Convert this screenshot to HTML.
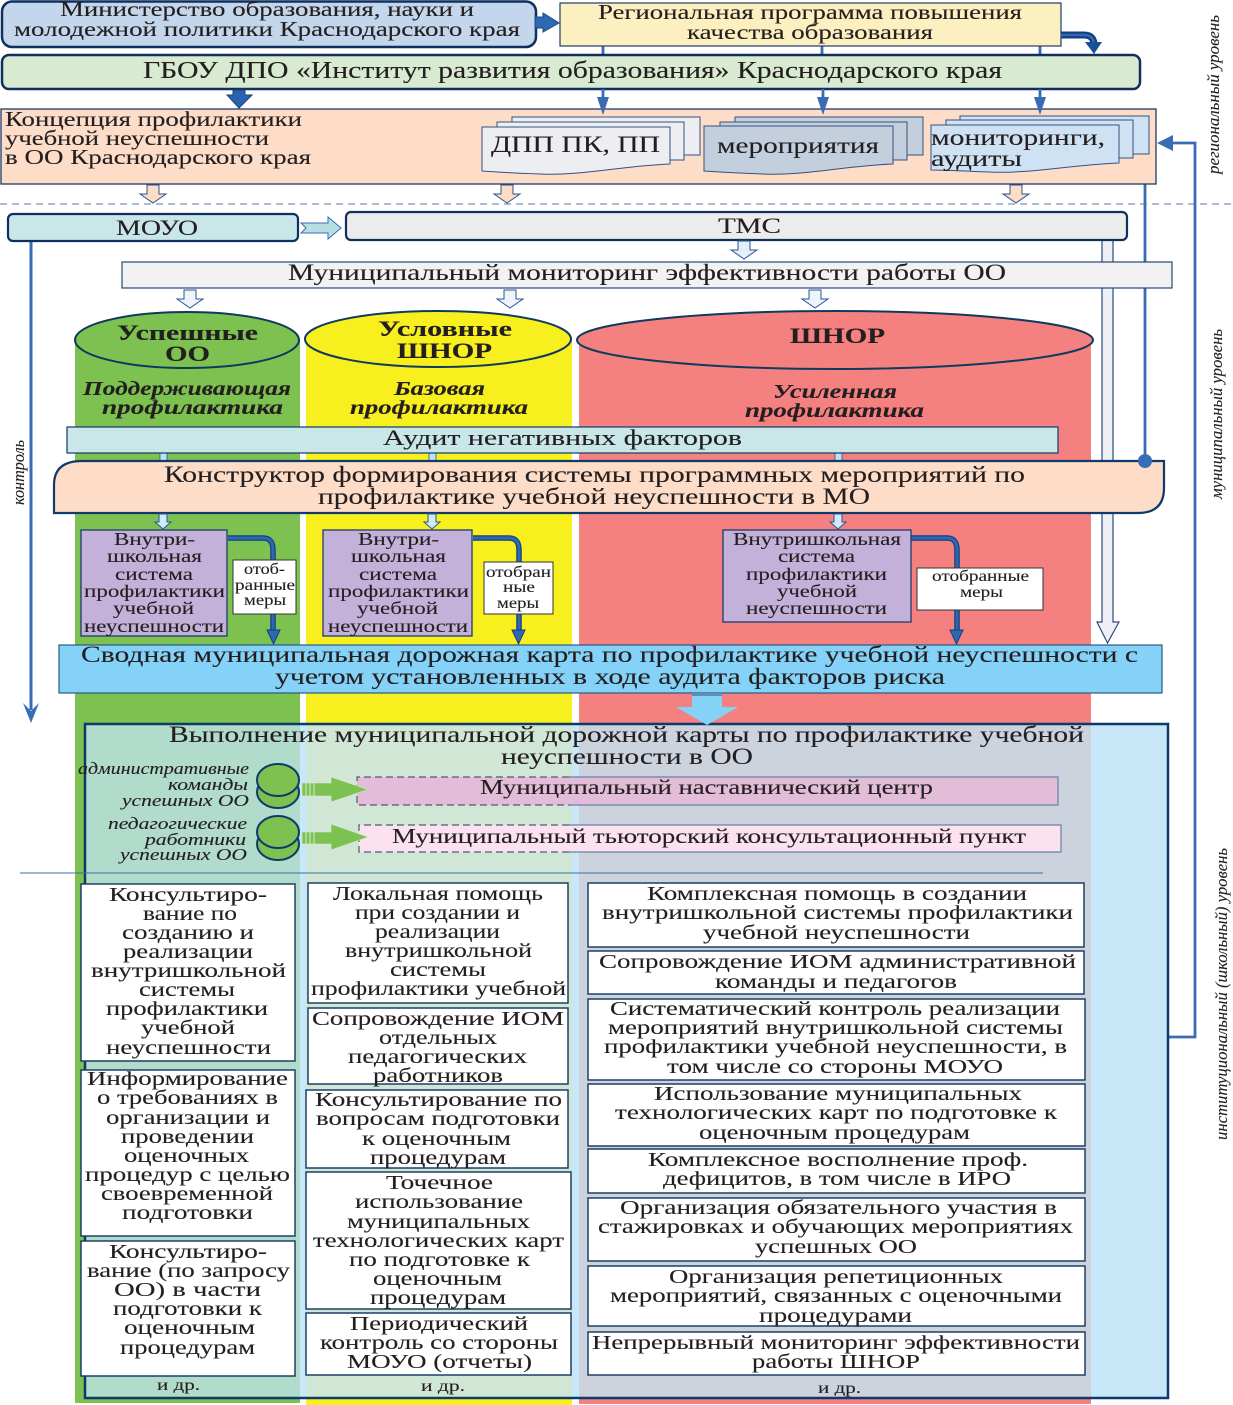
<!DOCTYPE html>
<html lang="ru"><head><meta charset="utf-8"><title>Схема</title>
<style>
html,body{margin:0;padding:0;background:#fff}
svg{display:block}
text{font-family:"Liberation Serif","DejaVu Serif",serif;fill:#231f20;font-size:21px;stroke:#231f20;stroke-width:.12}
.s19{font-size:20px}.s18{font-size:18px}.s16{font-size:15.5px}.s22{font-size:22px}.s23{font-size:23px}.s24{font-size:24px}
.bi{font-weight:bold;font-style:italic;font-size:19.5px}
.b{font-weight:bold;font-size:22px}
.i{font-style:italic;font-size:16.5px}
.bx{fill:#fff;stroke:#1c3f68;stroke-width:1.5}
</style></head><body>
<svg xmlns="http://www.w3.org/2000/svg" width="1233" height="1405" viewBox="0 0 1233 1405">
<defs>
<polygon id="ha" points="-6,0 6,0 6,9 13,9 0,18 -13,9 -6,9" stroke="#2a5590" stroke-width="1"/>
<polygon id="sa" points="-4,0 4,0 4,8 8,8 0,15 -8,8 -4,8" stroke="#2a5590" stroke-width="1"/>
</defs>
<rect width="1233" height="1405" fill="#fff"/>

<!-- columns -->
<rect x="75" y="340" width="225" height="1063" fill="#7dc150"/>
<rect x="306" y="340" width="266" height="1065" fill="#f8ef1e"/>
<rect x="579" y="340" width="512" height="1064" fill="#f58080"/>
<ellipse cx="187" cy="340" rx="112" ry="28" fill="#7dc150" stroke="#0d3a5e" stroke-width="2"/>
<ellipse cx="438" cy="339" rx="133" ry="28" fill="#f8ef1e" stroke="#0d3a5e" stroke-width="2"/>
<ellipse cx="835" cy="340" rx="258" ry="29" fill="#f58080" stroke="#0d3a5e" stroke-width="2"/>
<text class="b" x="117" y="340" textLength="141" lengthAdjust="spacingAndGlyphs">Успешные</text>
<text class="b" x="165" y="361" textLength="45" lengthAdjust="spacingAndGlyphs">ОО</text>
<text class="b" x="378" y="336" textLength="134" lengthAdjust="spacingAndGlyphs">Условные</text>
<text class="b" x="397" y="358" textLength="95" lengthAdjust="spacingAndGlyphs">ШНОР</text>
<text class="b" x="790" y="343" textLength="95" lengthAdjust="spacingAndGlyphs">ШНОР</text>
<text class="bi" x="83" y="395" textLength="208" lengthAdjust="spacingAndGlyphs">Поддерживающая</text>
<text class="bi" x="102" y="414" textLength="181" lengthAdjust="spacingAndGlyphs">профилактика</text>
<text class="bi" x="394" y="395" textLength="91" lengthAdjust="spacingAndGlyphs">Базовая</text>
<text class="bi" x="350" y="414" textLength="178" lengthAdjust="spacingAndGlyphs">профилактика</text>
<text class="bi" x="773" y="398" textLength="124" lengthAdjust="spacingAndGlyphs">Усиленная</text>
<text class="bi" x="745" y="417" textLength="179" lengthAdjust="spacingAndGlyphs">профилактика</text>

<!-- long lines -->
<polyline points="1172,143 1195,143 1195,1037 1085,1037" fill="none" stroke="#3a6cb5" stroke-width="2.800"/>
<polygon points="1157,143 1173,135 1173,151" fill="#3a6cb5"/>
<line x1="1145" y1="184" x2="1145" y2="461" stroke="#3a6cb5" stroke-width="2.800"/>
<line x1="31" y1="241" x2="31" y2="710" stroke="#3a6cb5" stroke-width="3"/>
<polygon points="23,703 31,711 39,703 31,723" fill="#3a6cb5"/>
<polygon points="1102,240 1113,240 1113,622 1119,622 1107.500,643 1097,622 1102,622" fill="#eef0f6" stroke="#2a4a80" stroke-width="1.200"/>

<!-- top -->
<rect x="2" y="1.500" width="534" height="45.500" rx="10" fill="#c3d6ec" stroke="#0f2f5f" stroke-width="2.500"/>
<text x="60" y="16" textLength="414" lengthAdjust="spacingAndGlyphs">Министерство образования, науки и</text>
<text x="14" y="36" textLength="506" lengthAdjust="spacingAndGlyphs">молодежной политики Краснодарского края</text>
<polygon points="535,17 543,17 543,13 559,23 543,32 543,28 535,28" fill="#2f68b2" stroke="#1a4a8a"/>
<line x1="603" y1="46" x2="603" y2="56" stroke="#3a6cb5" stroke-width="2.800"/>
<line x1="822" y1="46" x2="822" y2="56" stroke="#3a6cb5" stroke-width="2.800"/>
<line x1="1040" y1="46" x2="1040" y2="56" stroke="#3a6cb5" stroke-width="2.800"/>
<rect x="560" y="3" width="501" height="43" fill="#fdf0c0" stroke="#1b3b6b" stroke-width="1.200"/>
<text x="598" y="19" textLength="424" lengthAdjust="spacingAndGlyphs">Региональная программа повышения</text>
<text x="687" y="39" textLength="246" lengthAdjust="spacingAndGlyphs">качества образования</text>
<path d="M1061,35 H1084 Q1094,35 1094,45" fill="none" stroke="#123f80" stroke-width="7"/>
<path d="M1061,35 H1084 Q1094,35 1094,45" fill="none" stroke="#2f68b2" stroke-width="2.500"/>
<polygon points="1085,42 1102,42 1094,54" fill="#1a4f98"/>

<rect x="2" y="55" width="1138" height="34" rx="7" fill="#d8ead0" stroke="#0f2f5f" stroke-width="2.500"/>
<text class="s24" x="143" y="78" textLength="859" lengthAdjust="spacingAndGlyphs">ГБОУ ДПО «Институт развития образования» Краснодарского края</text>
<polygon points="233,90 245,90 245,95 252,95 239,108 227,95 233,95" fill="#2a62b0" stroke="#17427f"/>

<rect x="1" y="109" width="1155" height="75" fill="#fddcc8" stroke="#1b3b6b" stroke-width="1.300"/>
<text x="5" y="126" textLength="297" lengthAdjust="spacingAndGlyphs">Концепция профилактики</text>
<text x="5" y="145" textLength="264" lengthAdjust="spacingAndGlyphs">учебной неуспешности</text>
<text x="5" y="164" textLength="306" lengthAdjust="spacingAndGlyphs">в ОО Краснодарского края</text>
<g stroke="#3a6cb5" stroke-width="2.800"><line x1="603" y1="89" x2="603" y2="100"/><line x1="823" y1="89" x2="823" y2="100"/><line x1="1040" y1="89" x2="1040" y2="100"/></g>
<g fill="#3a6cb5"><polygon points="597,97 609,97 603,115"/><polygon points="817,97 829,97 823,115"/><polygon points="1034,97 1046,97 1040,115"/></g>

<!-- doc stacks -->
<g fill="#eceef2" stroke="#34527e" stroke-width="1">
<rect x="512" y="117" width="188" height="38"/><rect x="497" y="122" width="187" height="38"/>
<path d="M482,127 H670 V164 C620,166 580,176 540,174 C515,173 495,172 482,171 Z"/></g>
<text class="s23" x="491" y="152" textLength="169" lengthAdjust="spacingAndGlyphs">ДПП ПК, ПП</text>
<g fill="#c3cfdd" stroke="#34527e" stroke-width="1">
<rect x="735" y="117" width="188" height="38"/><rect x="720" y="122" width="187" height="38"/>
<path d="M704,126 H893 V164 C843,166 803,176 763,174 C738,173 718,172 704,171 Z"/></g>
<text class="s23" x="717" y="153" textLength="162" lengthAdjust="spacingAndGlyphs">мероприятия</text>
<g fill="#cfe2f3" stroke="#34527e" stroke-width="1">
<rect x="960" y="116" width="189" height="38"/><rect x="946" y="120" width="187" height="38"/>
<path d="M931,125 H1119 V163 C1069,165 1029,174 989,172 C964,171 944,170 931,170 Z"/></g>
<text class="s23" x="931" y="145" textLength="174" lengthAdjust="spacingAndGlyphs">мониторинги,</text>
<text class="s23" x="931" y="166" textLength="91" lengthAdjust="spacingAndGlyphs">аудиты</text>

<g fill="#fddcc8">
<use href="#ha" transform="translate(153,185)"/><use href="#ha" transform="translate(507,185)"/><use href="#ha" transform="translate(1016,185)"/></g>
<line x1="0" y1="204" x2="1233" y2="204" stroke="#5a7aae" stroke-width="1" stroke-dasharray="7 5"/>

<!-- municipal -->
<rect x="8" y="214" width="290" height="27" rx="5" fill="#c9e7e8" stroke="#0f2f5f" stroke-width="2.200"/>
<text class="s22" x="116" y="235" textLength="82" lengthAdjust="spacingAndGlyphs">МОУО</text>
<polygon points="301,223 328,223 328,217 341,228 328,239 328,233 301,233 306,228" fill="#b6dfe4" stroke="#3a6cb5"/>
<rect x="346" y="212" width="781" height="28" rx="5" fill="#ececec" stroke="#0f2f5f" stroke-width="2.200"/>
<text class="s22" x="718" y="233" textLength="63" lengthAdjust="spacingAndGlyphs">ТМС</text>
<use href="#ha" transform="translate(744,241)" fill="#e4eff8"/>
<rect x="122" y="262" width="1050" height="26" fill="#f2f2f2" stroke="#234a78" stroke-width="1.200"/>
<text class="s23" x="288" y="280" textLength="718" lengthAdjust="spacingAndGlyphs">Муниципальный мониторинг эффективности работы ОО</text>
<g fill="#eef4fa"><use href="#ha" transform="translate(190,290)"/><use href="#ha" transform="translate(510,290)"/><use href="#ha" transform="translate(815,290)"/></g>

<!-- audit -->
<g fill="#bfe3f5" stroke="#2a5590" stroke-width=".8"><rect x="160" y="453" width="7" height="9"/><rect x="429" y="453" width="7" height="9"/><rect x="835" y="453" width="7" height="9"/></g>
<rect x="67" y="427" width="991" height="26" fill="#c9e7e8" stroke="#103a6a" stroke-width="1.200"/>
<text class="s22" x="383" y="445" textLength="359" lengthAdjust="spacingAndGlyphs">Аудит негативных факторов</text>
<path d="M54,513 V485 Q54,461 82,461 H1164 V488 Q1164,513 1138,513 Z" fill="#fddcc8" stroke="#103a6a" stroke-width="2.200"/>
<circle cx="1145" cy="461" r="7" fill="#3a6cb5"/>
<text class="s23" x="164" y="482" textLength="861" lengthAdjust="spacingAndGlyphs">Конструктор формирования системы программных мероприятий по</text>
<text class="s23" x="318" y="504" textLength="552" lengthAdjust="spacingAndGlyphs">профилактике учебной неуспешности в МО</text>
<g fill="#cfeaf8"><use href="#sa" transform="translate(163,514)"/><use href="#sa" transform="translate(432,514)"/><use href="#sa" transform="translate(838,514)"/></g>

<!-- connectors -->
<g fill="none" stroke-linejoin="round">
<path d="M228,538 H263 Q273,538 273,550 V632" stroke="#123f80" stroke-width="5.500"/>
<path d="M228,538 H263 Q273,538 273,550 V632" stroke="#2f68b2" stroke-width="3"/>
<path d="M473,538 H509 Q519,538 519,550 V632" stroke="#123f80" stroke-width="5.500"/>
<path d="M473,538 H509 Q519,538 519,550 V632" stroke="#2f68b2" stroke-width="3"/>
<path d="M911,538 H947 Q957,538 957,550 V632" stroke="#123f80" stroke-width="5.500"/>
<path d="M911,538 H947 Q957,538 957,550 V632" stroke="#2f68b2" stroke-width="3"/>
</g>
<g fill="#2f68b2" stroke="#123f80"><polygon points="267,630 280,630 273.500,644"/><polygon points="512,630 525,630 518.500,644"/><polygon points="950,630 963,630 956.500,644"/></g>

<!-- purple -->
<g fill="#c3b1d9" stroke="#1b3b6b" stroke-width="1.300">
<rect x="81" y="530" width="146" height="106"/><rect x="323" y="530" width="149" height="106"/><rect x="723" y="530" width="188" height="92"/></g>
<g>
<text class="s18" x="114" y="545" textLength="81" lengthAdjust="spacingAndGlyphs">Внутри-</text>
<text class="s18" x="107" y="562" textLength="95" lengthAdjust="spacingAndGlyphs">школьная</text>
<text class="s18" x="115" y="580" textLength="78" lengthAdjust="spacingAndGlyphs">система</text>
<text class="s18" x="84" y="597" textLength="141" lengthAdjust="spacingAndGlyphs">профилактики</text>
<text class="s18" x="113" y="614" textLength="81" lengthAdjust="spacingAndGlyphs">учебной</text>
<text class="s18" x="84" y="632" textLength="140" lengthAdjust="spacingAndGlyphs">неуспешности</text>
<text class="s18" x="358" y="545" textLength="81" lengthAdjust="spacingAndGlyphs">Внутри-</text>
<text class="s18" x="351" y="562" textLength="95" lengthAdjust="spacingAndGlyphs">школьная</text>
<text class="s18" x="359" y="580" textLength="78" lengthAdjust="spacingAndGlyphs">система</text>
<text class="s18" x="328" y="597" textLength="141" lengthAdjust="spacingAndGlyphs">профилактики</text>
<text class="s18" x="357" y="614" textLength="81" lengthAdjust="spacingAndGlyphs">учебной</text>
<text class="s18" x="328" y="632" textLength="140" lengthAdjust="spacingAndGlyphs">неуспешности</text>
<text class="s18" x="733" y="545" textLength="168" lengthAdjust="spacingAndGlyphs">Внутришкольная</text>
<text class="s18" x="778" y="562" textLength="77" lengthAdjust="spacingAndGlyphs">система</text>
<text class="s18" x="746" y="580" textLength="141" lengthAdjust="spacingAndGlyphs">профилактики</text>
<text class="s18" x="777" y="597" textLength="80" lengthAdjust="spacingAndGlyphs">учебной</text>
<text class="s18" x="746" y="614" textLength="141" lengthAdjust="spacingAndGlyphs">неуспешности</text>
</g>
<g fill="#fff" stroke="#333" stroke-width="1"><rect x="233" y="560" width="63" height="54"/><rect x="484" y="562" width="69" height="52"/><rect x="917" y="568" width="126" height="42"/></g>
<text class="s16" x="244" y="574" textLength="41" lengthAdjust="spacingAndGlyphs">отоб-</text>
<text class="s16" x="235" y="590" textLength="60" lengthAdjust="spacingAndGlyphs">ранные</text>
<text class="s16" x="244" y="605" textLength="42" lengthAdjust="spacingAndGlyphs">меры</text>
<text class="s16" x="486" y="577" textLength="65" lengthAdjust="spacingAndGlyphs">отобран</text>
<text class="s16" x="503" y="592" textLength="32" lengthAdjust="spacingAndGlyphs">ные</text>
<text class="s16" x="497" y="608" textLength="42" lengthAdjust="spacingAndGlyphs">меры</text>
<text class="s16" x="932" y="581" textLength="97" lengthAdjust="spacingAndGlyphs">отобранные</text>
<text class="s16" x="960" y="597" textLength="43" lengthAdjust="spacingAndGlyphs">меры</text>

<!-- summary -->
<rect x="59" y="645" width="1103" height="48" fill="#85d2f8" stroke="#2a5a80" stroke-width="1.200"/>
<text class="s23" x="81" y="662" textLength="1057" lengthAdjust="spacingAndGlyphs">Сводная муниципальная дорожная карта по профилактике учебной неуспешности с</text>
<text class="s23" x="275" y="684" textLength="670" lengthAdjust="spacingAndGlyphs">учетом установленных в ходе аудита факторов риска</text>

<!-- panel -->
<rect x="85" y="724" width="1083" height="674" fill="#c8e8fa"/>
<rect x="85" y="724" width="215" height="674" fill="#b1dccb"/>
<rect x="306" y="724" width="266" height="674" fill="#d1e7d6"/>
<rect x="579" y="724" width="512" height="674" fill="#cdd3dd"/>
<rect x="85" y="724" width="1083" height="674" fill="none" stroke="#0d3a6b" stroke-width="2.500"/>
<polygon points="692,693 722,693 722,707 738,707 707,725 676,707 692,707" fill="#85d2f8"/>
<rect x="692" y="693" width="30" height="3" fill="#5f8fb5"/>
<text class="s23" x="169" y="742" textLength="915" lengthAdjust="spacingAndGlyphs">Выполнение муниципальной дорожной карты по профилактике учебной</text>
<text class="s23" x="501" y="764" textLength="252" lengthAdjust="spacingAndGlyphs">неуспешности в ОО</text>
<text class="i" x="78" y="774" textLength="171" lengthAdjust="spacingAndGlyphs">административные</text>
<text class="i" x="168" y="790" textLength="80" lengthAdjust="spacingAndGlyphs">команды</text>
<text class="i" x="122" y="806" textLength="127" lengthAdjust="spacingAndGlyphs">успешных ОО</text>
<text class="i" x="108" y="829" textLength="139" lengthAdjust="spacingAndGlyphs">педагогические</text>
<text class="i" x="145" y="845" textLength="101" lengthAdjust="spacingAndGlyphs">работники</text>
<text class="i" x="120" y="860" textLength="127" lengthAdjust="spacingAndGlyphs">успешных ОО</text>
<g fill="#7dc150" stroke="#0d3a6b" stroke-width="2">
<ellipse cx="278" cy="792" rx="21" ry="16"/><ellipse cx="278" cy="780" rx="21" ry="16"/>
<ellipse cx="278" cy="844" rx="21" ry="16"/><ellipse cx="278" cy="832" rx="21" ry="16"/></g>

<rect x="357" y="777" width="701" height="28" fill="#e3bcd8"/>
<path d="M569,777 H1058 V805 H569" fill="none" stroke="#6a7fae" stroke-width="1.200"/>
<path d="M569,777 H357 V805 H569" fill="none" stroke="#55557a" stroke-width="1.200" stroke-dasharray="7 4"/>
<text x="480" y="794" textLength="453" lengthAdjust="spacingAndGlyphs">Муниципальный наставнический центр</text>
<rect x="359" y="825" width="702" height="27" fill="#fbe2ee"/>
<path d="M569,825 H1061 V852 H569" fill="none" stroke="#6a7fae" stroke-width="1.200"/>
<path d="M569,825 H359 V852 H569" fill="none" stroke="#55557a" stroke-width="1.200" stroke-dasharray="7 4"/>
<text x="392" y="843" textLength="634" lengthAdjust="spacingAndGlyphs">Муниципальный тьюторский консультационный пункт</text>

<g fill="#7dc150" stroke="#d8ecd8" stroke-width=".6">
<polygon points="302,783 331,783 331,777 368,789.500 331,802 331,796 302,796"/>
<polygon points="302,832 331,832 331,824 368,837 331,850 331,844 302,844"/></g>
<g stroke="#d8ecd8" stroke-width="1"><line x1="306" y1="783" x2="306" y2="796"/><line x1="310" y1="783" x2="310" y2="796"/><line x1="314" y1="783" x2="314" y2="796"/><line x1="306" y1="832" x2="306" y2="844"/><line x1="310" y1="832" x2="310" y2="844"/><line x1="314" y1="832" x2="314" y2="844"/></g>
<line x1="20" y1="873" x2="1043" y2="873" stroke="#3c6cb0" stroke-width="1"/>

<!-- col 1 -->
<rect class="bx" x="81" y="884" width="214" height="177"/><rect class="bx" x="81" y="1070" width="214" height="166"/><rect class="bx" x="81" y="1241" width="214" height="135"/>
<g>
<text class="s19" x="109" y="901" textLength="158" lengthAdjust="spacingAndGlyphs">Консультиро-</text>
<text class="s19" x="143" y="920" textLength="94" lengthAdjust="spacingAndGlyphs">вание по</text>
<text class="s19" x="122" y="939" textLength="132" lengthAdjust="spacingAndGlyphs">созданию и</text>
<text class="s19" x="123" y="958" textLength="130" lengthAdjust="spacingAndGlyphs">реализации</text>
<text class="s19" x="91" y="977" textLength="195" lengthAdjust="spacingAndGlyphs">внутришкольной</text>
<text class="s19" x="139" y="996" textLength="96" lengthAdjust="spacingAndGlyphs">системы</text>
<text class="s19" x="106" y="1015" textLength="162" lengthAdjust="spacingAndGlyphs">профилактики</text>
<text class="s19" x="141" y="1034" textLength="94" lengthAdjust="spacingAndGlyphs">учебной</text>
<text class="s19" x="106" y="1054" textLength="165" lengthAdjust="spacingAndGlyphs">неуспешности</text>
<text class="s19" x="87" y="1085" textLength="201" lengthAdjust="spacingAndGlyphs">Информирование</text>
<text class="s19" x="97" y="1104" textLength="181" lengthAdjust="spacingAndGlyphs">о требованиях в</text>
<text class="s19" x="106" y="1124" textLength="164" lengthAdjust="spacingAndGlyphs">организации и</text>
<text class="s19" x="121" y="1143" textLength="133" lengthAdjust="spacingAndGlyphs">проведении</text>
<text class="s19" x="124" y="1162" textLength="125" lengthAdjust="spacingAndGlyphs">оценочных</text>
<text class="s19" x="85" y="1181" textLength="205" lengthAdjust="spacingAndGlyphs">процедур с целью</text>
<text class="s19" x="101" y="1200" textLength="172" lengthAdjust="spacingAndGlyphs">своевременной</text>
<text class="s19" x="122" y="1219" textLength="131" lengthAdjust="spacingAndGlyphs">подготовки</text>
<text class="s19" x="109" y="1258" textLength="158" lengthAdjust="spacingAndGlyphs">Консультиро-</text>
<text class="s19" x="87" y="1277" textLength="203" lengthAdjust="spacingAndGlyphs">вание (по запросу</text>
<text class="s19" x="114" y="1296" textLength="147" lengthAdjust="spacingAndGlyphs">ОО) в части</text>
<text class="s19" x="113" y="1315" textLength="149" lengthAdjust="spacingAndGlyphs">подготовки к</text>
<text class="s19" x="124" y="1334" textLength="131" lengthAdjust="spacingAndGlyphs">оценочным</text>
<text class="s19" x="120" y="1354" textLength="135" lengthAdjust="spacingAndGlyphs">процедурам</text>
<text class="s16" x="157" y="1390" textLength="43" lengthAdjust="spacingAndGlyphs">и др.</text>
</g>

<!-- col 2 -->
<rect class="bx" x="308" y="883" width="260" height="120"/><rect class="bx" x="308" y="1008" width="260" height="76"/><rect class="bx" x="306" y="1090" width="262" height="78"/><rect class="bx" x="306" y="1172" width="265" height="137"/><rect class="bx" x="306" y="1313" width="265" height="62"/>
<g>
<text class="s19" x="333" y="900" textLength="210" lengthAdjust="spacingAndGlyphs">Локальная помощь</text>
<text class="s19" x="355" y="919" textLength="165" lengthAdjust="spacingAndGlyphs">при создании и</text>
<text class="s19" x="375" y="938" textLength="125" lengthAdjust="spacingAndGlyphs">реализации</text>
<text class="s19" x="345" y="957" textLength="187" lengthAdjust="spacingAndGlyphs">внутришкольной</text>
<text class="s19" x="390" y="976" textLength="96" lengthAdjust="spacingAndGlyphs">системы</text>
<text class="s19" x="311" y="995" textLength="255" lengthAdjust="spacingAndGlyphs">профилактики учебной</text>
<text class="s19" x="312" y="1025" textLength="252" lengthAdjust="spacingAndGlyphs">Сопровождение ИОМ</text>
<text class="s19" x="379" y="1044" textLength="118" lengthAdjust="spacingAndGlyphs">отдельных</text>
<text class="s19" x="348" y="1063" textLength="179" lengthAdjust="spacingAndGlyphs">педагогических</text>
<text class="s19" x="373" y="1082" textLength="130" lengthAdjust="spacingAndGlyphs">работников</text>
<text class="s19" x="315" y="1106" textLength="247" lengthAdjust="spacingAndGlyphs">Консультирование по</text>
<text class="s19" x="316" y="1125" textLength="244" lengthAdjust="spacingAndGlyphs">вопросам подготовки</text>
<text class="s19" x="362" y="1145" textLength="149" lengthAdjust="spacingAndGlyphs">к оценочным</text>
<text class="s19" x="370" y="1164" textLength="136" lengthAdjust="spacingAndGlyphs">процедурам</text>
<text class="s19" x="386" y="1189" textLength="107" lengthAdjust="spacingAndGlyphs">Точечное</text>
<text class="s19" x="355" y="1208" textLength="168" lengthAdjust="spacingAndGlyphs">использование</text>
<text class="s19" x="347" y="1228" textLength="183" lengthAdjust="spacingAndGlyphs">муниципальных</text>
<text class="s19" x="313" y="1247" textLength="251" lengthAdjust="spacingAndGlyphs">технологических карт</text>
<text class="s19" x="349" y="1266" textLength="181" lengthAdjust="spacingAndGlyphs">по подготовке к</text>
<text class="s19" x="373" y="1285" textLength="129" lengthAdjust="spacingAndGlyphs">оценочным</text>
<text class="s19" x="370" y="1304" textLength="136" lengthAdjust="spacingAndGlyphs">процедурам</text>
<text class="s19" x="350" y="1330" textLength="178" lengthAdjust="spacingAndGlyphs">Периодический</text>
<text class="s19" x="320" y="1349" textLength="238" lengthAdjust="spacingAndGlyphs">контроль со стороны</text>
<text class="s19" x="347" y="1368" textLength="185" lengthAdjust="spacingAndGlyphs">МОУО (отчеты)</text>
<text class="s16" x="421" y="1391" textLength="44" lengthAdjust="spacingAndGlyphs">и др.</text>
</g>

<!-- col 3 -->
<rect class="bx" x="588" y="883" width="496" height="64"/><rect class="bx" x="588" y="951" width="496" height="43"/><rect class="bx" x="588" y="999" width="497" height="81"/><rect class="bx" x="588" y="1084" width="497" height="62"/><rect class="bx" x="588" y="1149" width="497" height="44"/><rect class="bx" x="588" y="1198" width="497" height="63"/><rect class="bx" x="588" y="1266" width="497" height="60"/><rect class="bx" x="588" y="1332" width="497" height="43"/>
<g>
<text class="s19" x="647" y="900" textLength="380" lengthAdjust="spacingAndGlyphs">Комплексная помощь в создании</text>
<text class="s19" x="602" y="919" textLength="471" lengthAdjust="spacingAndGlyphs">внутришкольной системы профилактики</text>
<text class="s19" x="703" y="939" textLength="267" lengthAdjust="spacingAndGlyphs">учебной неуспешности</text>
<text class="s19" x="599" y="968" textLength="477" lengthAdjust="spacingAndGlyphs">Сопровождение ИОМ административной</text>
<text class="s19" x="715" y="988" textLength="242" lengthAdjust="spacingAndGlyphs">команды и педагогов</text>
<text class="s19" x="610" y="1015" textLength="450" lengthAdjust="spacingAndGlyphs">Систематический контроль реализации</text>
<text class="s19" x="608" y="1034" textLength="455" lengthAdjust="spacingAndGlyphs">мероприятий внутришкольной системы</text>
<text class="s19" x="604" y="1053" textLength="463" lengthAdjust="spacingAndGlyphs">профилактики учебной неуспешности, в</text>
<text class="s19" x="667" y="1073" textLength="336" lengthAdjust="spacingAndGlyphs">том числе со стороны МОУО</text>
<text class="s19" x="654" y="1100" textLength="368" lengthAdjust="spacingAndGlyphs">Использование муниципальных</text>
<text class="s19" x="615" y="1119" textLength="442" lengthAdjust="spacingAndGlyphs">технологических карт по подготовке к</text>
<text class="s19" x="699" y="1139" textLength="271" lengthAdjust="spacingAndGlyphs">оценочным процедурам</text>
<text class="s19" x="648" y="1166" textLength="380" lengthAdjust="spacingAndGlyphs">Комплексное восполнение проф.</text>
<text class="s19" x="663" y="1185" textLength="348" lengthAdjust="spacingAndGlyphs">дефицитов, в том числе в ИРО</text>
<text class="s19" x="620" y="1214" textLength="437" lengthAdjust="spacingAndGlyphs">Организация обязательного участия в</text>
<text class="s19" x="598" y="1233" textLength="475" lengthAdjust="spacingAndGlyphs">стажировках и обучающих мероприятиях</text>
<text class="s19" x="755" y="1253" textLength="162" lengthAdjust="spacingAndGlyphs">успешных ОО</text>
<text class="s19" x="669" y="1283" textLength="334" lengthAdjust="spacingAndGlyphs">Организация репетиционных</text>
<text class="s19" x="610" y="1302" textLength="452" lengthAdjust="spacingAndGlyphs">мероприятий, связанных с оценочными</text>
<text class="s19" x="759" y="1322" textLength="153" lengthAdjust="spacingAndGlyphs">процедурами</text>
<text class="s19" x="592" y="1349" textLength="488" lengthAdjust="spacingAndGlyphs">Непрерывный мониторинг эффективности</text>
<text class="s19" x="752" y="1368" textLength="168" lengthAdjust="spacingAndGlyphs">работы ШНОР</text>
<text class="s16" x="818" y="1393" textLength="43" lengthAdjust="spacingAndGlyphs">и др.</text>
</g>

<!-- side labels -->
<text class="i" transform="translate(1219,174) rotate(-90)" textLength="159" lengthAdjust="spacingAndGlyphs">региональный уровень</text>
<text class="i" transform="translate(1222,499) rotate(-90)" textLength="170" lengthAdjust="spacingAndGlyphs">муниципальный уровень</text>
<text class="i" transform="translate(1227,1140) rotate(-90)" textLength="292" lengthAdjust="spacingAndGlyphs">институциональный (школьный) уровень</text>
<text class="i" transform="translate(24,505) rotate(-90)" textLength="65" lengthAdjust="spacingAndGlyphs">контроль</text>
</svg>
</body></html>
